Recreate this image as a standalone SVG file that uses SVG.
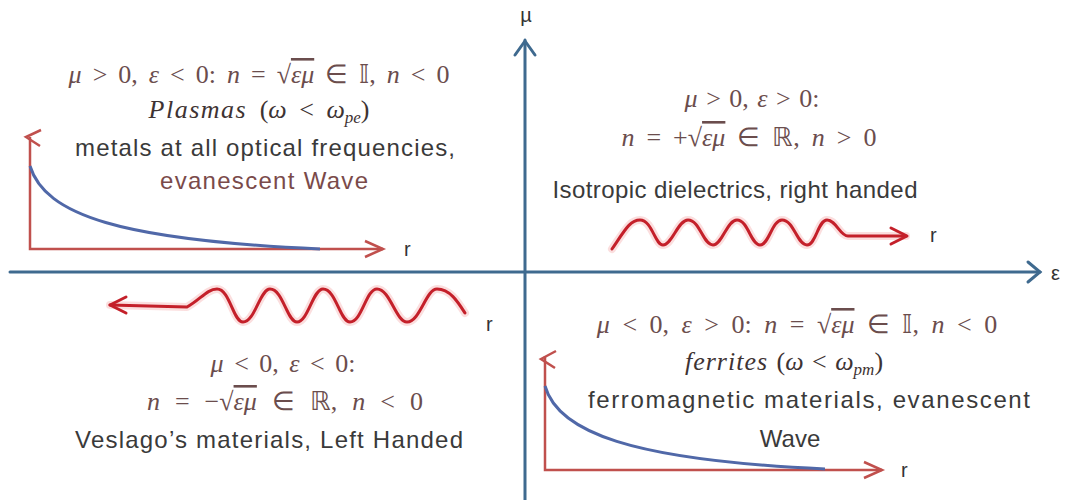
<svg xmlns="http://www.w3.org/2000/svg" width="1067" height="500" viewBox="0 0 1067 500">
<style>
.axis{stroke:#3f6a8f;stroke-width:3;fill:none;stroke-linecap:round}
.plot{stroke:#c0504d;stroke-width:2.5;fill:none}
.decay{stroke:#5068a8;stroke-width:3;fill:none}
.wave{stroke:#c4202a;stroke-width:3;fill:none;stroke-linejoin:round;stroke-linecap:round}
.glow{stroke:#f4a0a0;stroke-width:8;fill:none;opacity:0.35;stroke-linejoin:round;stroke-linecap:round}
.math{font-family:"Liberation Serif",serif;font-size:26px;fill:#6b4d4d}
.it{font-style:italic}
.sans{font-family:"Liberation Sans",Arial,sans-serif;font-size:24px;fill:#3a3a3a}
.brown{fill:#7a4a4a}
.lbl{font-family:"Liberation Sans",Arial,sans-serif;font-size:20px;fill:#333}
.ov{text-decoration:overline}
</style>
<g id="axes">
  <line class="axis" x1="10" y1="272" x2="1040" y2="272"/>
  <polyline class="axis" points="1028,262 1040,272 1028,282"/>
  <line class="axis" x1="525" y1="40" x2="525" y2="500"/>
  <polyline class="axis" points="515,55 525,41 535,55"/>
  <text class="lbl" x="526" y="22" text-anchor="middle" font-size="17">µ</text>
  <text class="lbl" x="1051" y="280" font-size="22">ε</text>
</g>
<g id="q2-plasmas">
  <text class="math" x="259" y="83" text-anchor="middle" word-spacing="4.5"><tspan class="it">μ</tspan> &gt; 0, <tspan class="it">ε</tspan> &lt; 0: <tspan class="it">n</tspan> = √<tspan class="it ov">εμ</tspan> ∈ 𝕀, <tspan class="it">n</tspan> &lt; 0</text>
  <text class="math" x="259" y="118" text-anchor="middle" word-spacing="6" style="fill:#3e3333"><tspan class="it" letter-spacing="1.5">Plasmas</tspan> (<tspan class="it">ω</tspan> &lt; <tspan class="it">ω</tspan><tspan class="it" font-size="17" dy="5">pe</tspan><tspan dy="-5">)</tspan></text>
  <text class="sans" x="265" y="156" text-anchor="middle" textLength="380">metals at all optical frequencies,</text>
  <text class="sans brown" x="264" y="189" text-anchor="middle" textLength="208">evanescent Wave</text>
  <polyline class="plot" points="30,137 30,249 383,249"/>
  <polyline class="plot" points="41,130 26,137 40,146"/>
  <polyline class="plot" points="365,241 383,249 365,257"/>
  <path class="decay" d="M30,166 C45,215 120,240 320,249"/>
  <text class="lbl" x="404" y="256">r</text>
</g>
<g id="q1-dielectrics">
  <text class="math" x="752" y="107" text-anchor="middle" word-spacing="2"><tspan class="it">μ</tspan> &gt; 0, <tspan class="it">ε</tspan> &gt; 0:</text>
  <text class="math" x="749" y="146" text-anchor="middle" word-spacing="5.5"><tspan class="it">n</tspan> = +√<tspan class="it ov">εμ</tspan> ∈ ℝ, <tspan class="it">n</tspan> &gt; 0</text>
  <text class="sans" x="735" y="198" text-anchor="middle" textLength="365">Isotropic dielectrics, right handed</text>
  <path class="glow" d="M612,249 C625,230 630,220 640,220 C652,220 655,245 663,245 C672,245 678,220 688,220 C700,220 703,245 713,245 C722,245 727,220 737,220 C748,220 751,245 760,245 C769,245 772,220 782,220 C794,220 797,245 807,245 C816,245 818,220 827,220 C836,220 840,236 848,236 L906,236"/>
  <path class="wave" d="M612,249 C625,230 630,220 640,220 C652,220 655,245 663,245 C672,245 678,220 688,220 C700,220 703,245 713,245 C722,245 727,220 737,220 C748,220 751,245 760,245 C769,245 772,220 782,220 C794,220 797,245 807,245 C816,245 818,220 827,220 C836,220 840,236 848,236 L906,236"/>
  <polyline class="wave" points="891,228 907,236 891,244"/>
  <text class="lbl" x="930" y="242">r</text>
</g>
<g id="q3-veselago">
  <path class="glow" d="M110,305 L187,307 C200,300 207,289 217,289 C230,289 233,322 243,322 C255,322 260,289 270,289 C283,289 287,322 297,322 C308,322 313,289 323,289 C336,289 340,322 350,322 C362,322 366,289 377,289 C390,289 396,322 407,322 C420,322 426,289 437,289 C450,289 458,302 465,313"/>
  <path class="wave" d="M110,305 L187,307 C200,300 207,289 217,289 C230,289 233,322 243,322 C255,322 260,289 270,289 C283,289 287,322 297,322 C308,322 313,289 323,289 C336,289 340,322 350,322 C362,322 366,289 377,289 C390,289 396,322 407,322 C420,322 426,289 437,289 C450,289 458,302 465,313"/>
  <polyline class="wave" points="126,297 110,305 126,313"/>
  <text class="lbl" x="486" y="331">r</text>
  <text class="math" x="283" y="372" text-anchor="middle" word-spacing="4"><tspan class="it">μ</tspan> &lt; 0, <tspan class="it">ε</tspan> &lt; 0:</text>
  <text class="math" x="285" y="410" text-anchor="middle" word-spacing="8.5"><tspan class="it">n</tspan> = −√<tspan class="it ov">εμ</tspan> ∈ ℝ, <tspan class="it">n</tspan> &lt; 0</text>
  <text class="sans" x="269" y="448" text-anchor="middle" textLength="388">Veslago’s materials, Left Handed</text>
</g>
<g id="q4-ferrites">
  <text class="math" x="797" y="333" text-anchor="middle" word-spacing="6"><tspan class="it">μ</tspan> &lt; 0, <tspan class="it">ε</tspan> &gt; 0: <tspan class="it">n</tspan> = √<tspan class="it ov">εμ</tspan> ∈ 𝕀, <tspan class="it">n</tspan> &lt; 0</text>
  <text class="math" x="784" y="370" text-anchor="middle" word-spacing="2" style="fill:#3e3333"><tspan class="it" letter-spacing="1">ferrites</tspan> (<tspan class="it">ω</tspan> &lt; <tspan class="it">ω</tspan><tspan class="it" font-size="17" dy="5">pm</tspan><tspan dy="-5">)</tspan></text>
  <text class="sans" x="809" y="408" text-anchor="middle" textLength="442">ferromagnetic materials, evanescent</text>
  <text class="sans" x="790" y="447" text-anchor="middle">Wave</text>
  <polyline class="plot" points="545,356 545,470 882,470"/>
  <polyline class="plot" points="556,351 541,359 555,368"/>
  <polyline class="plot" points="864,462 882,470 864,478"/>
  <path class="decay" d="M545,386 C558,432 630,460 825,469"/>
  <text class="lbl" x="901" y="477">r</text>
</g>
</svg>
